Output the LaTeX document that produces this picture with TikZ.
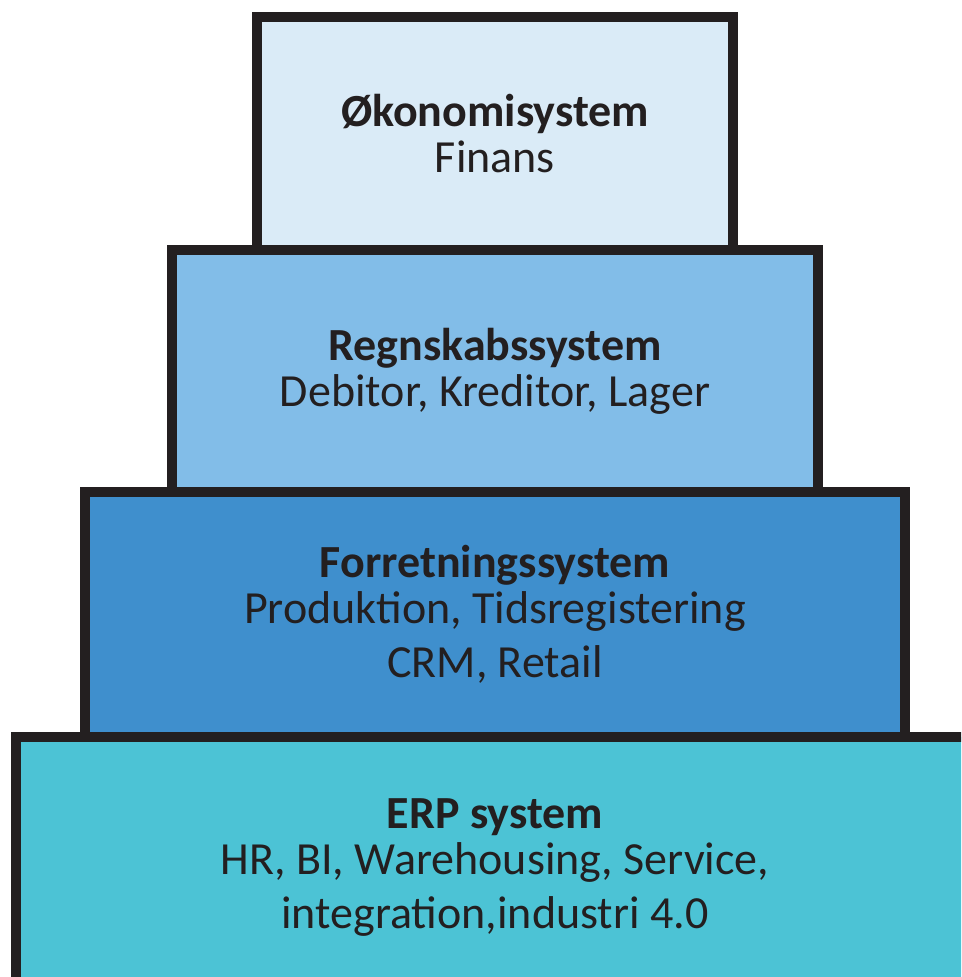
\documentclass[tikz,border=0pt]{standalone}
\usepackage{fontspec}
\setmainfont{Carlito}
\usetikzlibrary{positioning}
\definecolor{ink}{rgb}{0.137,0.122,0.125}
\definecolor{pale}{rgb}{0.855,0.922,0.969}
\definecolor{sky}{rgb}{0.51,0.741,0.91}
\definecolor{ocean}{rgb}{0.247,0.561,0.804}
\definecolor{lagoon}{rgb}{0.298,0.765,0.835}

\begin{document}
\begin{tikzpicture}[
  x=1pt, y=-1pt,
  every node/.style={
    text=ink,
    font=\fontsize{46}{46}\selectfont,
    align=center,
  },
  tier/.style={
    draw=ink,
    line width=10pt,
    rectangle,
  }
]

\clip (0,0) rectangle (961,977);

\node[tier, fill=pale, minimum width=476pt, minimum height=233pt] (okonomi) at (495,133.5) {
  \textbf{Økonomisystem}\\
  Finans
};
\node[tier, fill=sky, minimum width=646pt, minimum height=242pt] (regnskab) at (495,371) {
  \textbf{Regnskabssystem}\\
  Debitor, Kreditor, Lager
};
\node[tier, fill=ocean, minimum width=820pt, minimum height=245pt] (forretning) at (495,614.5) {
  \textbf{Forretningssystem}\\
  Produktion, Tidsregistering\\[8pt]
  CRM, Retail
};
\node[tier, fill=lagoon, minimum width=958pt, minimum height=262pt] (erp) at (495,868) {
  \textbf{ERP system}\\
  HR, BI, Warehousing, Service,\\[8pt]
  integration,industri 4.0
};

\end{tikzpicture}
\end{document}
